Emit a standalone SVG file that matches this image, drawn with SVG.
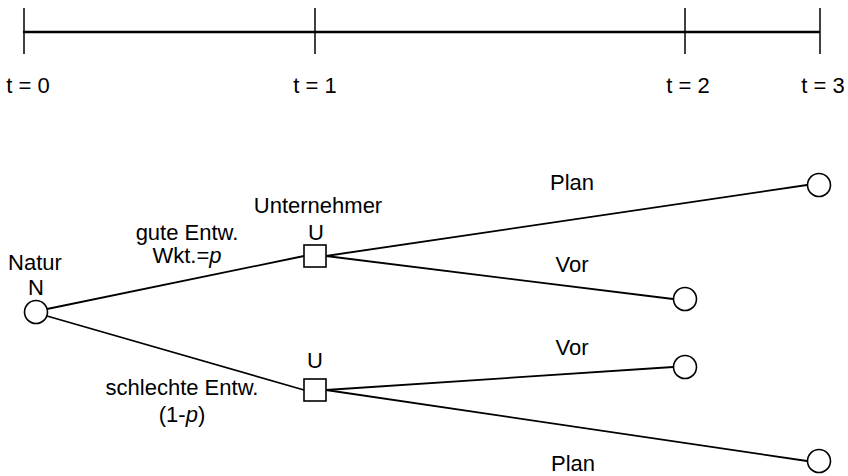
<svg xmlns="http://www.w3.org/2000/svg" width="848" height="476" viewBox="0 0 848 476">
<style>
text{font-family:"Liberation Sans",Arial,sans-serif;font-size:22px;fill:#000;text-anchor:middle}
.e{stroke:#000;stroke-width:1.8;fill:none}
.n{stroke:#000;stroke-width:1.6;fill:#fff}
.tick{stroke:#000;stroke-width:1.5}
</style>
<rect width="848" height="476" fill="#fff"/>
<g id="timeline">
<line x1="23" y1="32" x2="820" y2="32" stroke="#000" stroke-width="2.6"/>
<line class="tick" x1="24" y1="8" x2="24" y2="54"/>
<line class="tick" x1="315" y1="8" x2="315" y2="54"/>
<line class="tick" x1="685" y1="8" x2="685" y2="54"/>
<line class="tick" x1="820" y1="8" x2="820" y2="54"/>
<text x="28" y="93">t = 0</text>
<text x="315" y="93">t = 1</text>
<text x="688" y="93">t = 2</text>
<text x="823" y="93">t = 3</text>
</g>
<g id="connectors">
<line class="e" x1="47" y1="309" x2="304" y2="256"/>
<line class="e" x1="47" y1="316" x2="304" y2="390"/>
<line class="e" x1="326" y1="256" x2="807" y2="185"/>
<line class="e" x1="326" y1="256" x2="673" y2="299"/>
<line class="e" x1="326" y1="390" x2="673" y2="367"/>
<line class="e" x1="326" y1="390" x2="807" y2="461"/>
<text x="187" y="240">gute Entw.</text>
<text x="187" y="263">Wkt.=<tspan font-style="italic">p</tspan></text>
<text x="182" y="395">schlechte Entw.</text>
<text x="182" y="422">(1-<tspan font-style="italic">p</tspan>)</text>
<text x="572" y="190">Plan</text>
<text x="572" y="272">Vor</text>
<text x="572" y="355">Vor</text>
<text x="573" y="471">Plan</text>
</g>
<g id="natur">
<circle class="n" cx="36" cy="312" r="11.5"/>
<text x="35" y="270">Natur</text>
<text x="36" y="295">N</text>
</g>
<g id="u1">
<rect class="n" x="304" y="245" width="22" height="22"/>
<text x="318" y="213">Unternehmer</text>
<text x="316" y="240">U</text>
</g>
<g id="u2">
<rect class="n" x="304" y="379" width="22" height="22"/>
<text x="315" y="368">U</text>
</g>
<g id="end1"><circle class="n" cx="819" cy="185" r="11.5"/></g>
<g id="end2"><circle class="n" cx="685" cy="299" r="11.5"/></g>
<g id="end3"><circle class="n" cx="685" cy="367" r="11.5"/></g>
<g id="end4"><circle class="n" cx="819" cy="461" r="11.5"/></g>
</svg>
